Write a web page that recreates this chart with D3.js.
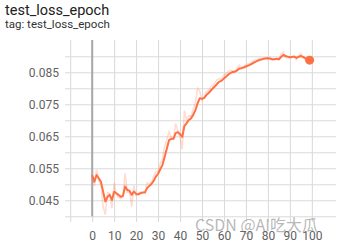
<!DOCTYPE html>
<html>
<head>
<meta charset="utf-8">
<script src="https://cdn.jsdelivr.net/npm/d3@7/dist/d3.min.js"></script>
<style>
  body { margin: 0; background: #fff; }
  svg { display: block; font-family: Roboto, "Noto Sans", sans-serif; }
</style>
</head>
<body>
<svg id="chart" width="338" height="245"></svg>
<script>
// values
var title = "test_loss_epoch";
var tagLine = "tag: test_loss_epoch";
var xTicks = [-10, 0, 10, 20, 30, 40, 50, 60, 70, 80, 90, 100];
var yGrid = [0.040, 0.045, 0.050, 0.055, 0.060, 0.065, 0.070, 0.075, 0.080, 0.085, 0.090];
var yLabels = [0.045, 0.055, 0.065, 0.075, 0.085];

var smoothed = [
  0.0529, 0.0508, 0.0529, 0.0519, 0.0508, 0.0477, 0.0446, 0.0461, 0.0467, 0.0451,
  0.0477, 0.0472, 0.0467, 0.0461, 0.0463, 0.0493, 0.0482, 0.0480, 0.0467, 0.0477,
  0.0470, 0.0469, 0.0472, 0.0474, 0.0474, 0.0488, 0.0495, 0.0501, 0.0511, 0.0524,
  0.0533, 0.0547, 0.0560, 0.0586, 0.0612, 0.0638, 0.0642, 0.0642, 0.0660, 0.0663,
  0.0657, 0.0648, 0.0682, 0.0691, 0.0701, 0.0706, 0.0717, 0.0732, 0.0753, 0.0769,
  0.0767, 0.0770, 0.0779, 0.0785, 0.0793, 0.0800, 0.0807, 0.0815, 0.0821, 0.0824,
  0.0831, 0.0837, 0.0843, 0.0848, 0.0851, 0.0852, 0.0856, 0.0862, 0.0863, 0.0865,
  0.0868, 0.0871, 0.0874, 0.0878, 0.0882, 0.0885, 0.0888, 0.0890, 0.0892, 0.0893,
  0.0894, 0.0893, 0.0891, 0.0891, 0.0892, 0.0891, 0.0898, 0.0904, 0.0901, 0.0899,
  0.0897, 0.0898, 0.0899, 0.0895, 0.0898, 0.0901, 0.0898, 0.0894, 0.0892, 0.0888
];
var raw = [
  0.0529, 0.0495, 0.0545, 0.0512, 0.0500, 0.0430, 0.0405, 0.0475, 0.0470, 0.0425,
  0.0505, 0.0468, 0.0460, 0.0455, 0.0465, 0.0534, 0.0475, 0.0476, 0.0430, 0.0496,
  0.0465, 0.0468, 0.0476, 0.0476, 0.0474, 0.0505, 0.0500, 0.0505, 0.0525, 0.0540,
  0.0540, 0.0565, 0.0580, 0.0620, 0.0640, 0.0665, 0.0645, 0.0640, 0.0690, 0.0668,
  0.0648, 0.0610, 0.0730, 0.0700, 0.0715, 0.0712, 0.0735, 0.0755, 0.0800, 0.0790,
  0.0762, 0.0775, 0.0790, 0.0792, 0.0805, 0.0810, 0.0818, 0.0828, 0.0830, 0.0828,
  0.0842, 0.0846, 0.0852, 0.0856, 0.0855, 0.0853, 0.0862, 0.0872, 0.0865, 0.0868,
  0.0873, 0.0876, 0.0879, 0.0884, 0.0888, 0.0890, 0.0893, 0.0893, 0.0895, 0.0895,
  0.0895, 0.0892, 0.0888, 0.0891, 0.0893, 0.0889, 0.0908, 0.0913, 0.0897, 0.0896,
  0.0894, 0.0899, 0.0901, 0.0889, 0.0903, 0.0908, 0.0895, 0.0889, 0.0888, 0.0882
];

var svg = d3.select("#chart");
var lineColor = "#ff7043";

var x = d3.scaleLinear().domain([-11, 111]).range([68, 336]);
var y = d3.scaleLinear().domain([0.040, 0.095]).range([216.3, 40.3]);

svg.append("text").attr("x", 5).attr("y", 15)
  .attr("font-size", 14.5).attr("fill", "#212121").text(title);
svg.append("text").attr("x", 5).attr("y", 28)
  .attr("font-size", 11.5).attr("fill", "#333").text(tagLine);

// horizontal grid + y ticks
var yAxis = d3.axisLeft(y).tickValues(yGrid).tickSize(-(336 - 65)).tickPadding(6)
  .tickFormat(function (d) {
    return yLabels.some(function (v) { return Math.abs(v - d) < 1e-9; }) ? d3.format(".3f")(d) : "";
  });
var gy = svg.append("g").attr("transform", "translate(65,0)").call(yAxis);
gy.select(".domain").remove();
gy.selectAll("line").attr("stroke", "#d9d9d9");
gy.selectAll("text").attr("font-size", 12).attr("fill", "#616161").attr("font-family", "Roboto");

// vertical grid + x ticks
var xAxis = d3.axisBottom(x).tickValues(xTicks).tickSize(-(222 - 40)).tickPadding(5)
  .tickFormat(function (d) { return d < 0 ? "" : d; });
var gx = svg.append("g").attr("transform", "translate(0,222)").call(xAxis);
gx.select(".domain").remove();
gx.selectAll("line").attr("stroke", "#d9d9d9");
gx.selectAll("text").attr("font-size", 12).attr("fill", "#616161").attr("font-family", "Roboto")
  .attr("dy", "1.05em");

// zero line
svg.append("line")
  .attr("x1", x(0)).attr("x2", x(0))
  .attr("y1", 40).attr("y2", 216.3)
  .attr("stroke", "#a8a8a8").attr("stroke-width", 2);

var line = d3.line()
  .x(function (d, i) { return x(i); })
  .y(function (d) { return y(d); });

svg.append("path").datum(raw)
  .attr("d", line)
  .attr("fill", "none")
  .attr("stroke", lineColor)
  .attr("stroke-opacity", 0.25)
  .attr("stroke-width", 1.5);

svg.append("path").datum(smoothed)
  .attr("d", line)
  .attr("fill", "none")
  .attr("stroke", lineColor)
  .attr("stroke-width", 2)
  .attr("stroke-linejoin", "round");

var last = smoothed.length - 1;
svg.append("circle")
  .attr("cx", x(last)).attr("cy", y(smoothed[last]))
  .attr("r", 4.5).attr("fill", lineColor);

// watermark (overlaps the x labels, as in the original screenshot)
svg.append("text").attr("x", 195).attr("y", 231)
  .attr("font-size", 16).attr("fill", "#888").attr("fill-opacity", 0.6)
  .attr("font-family", "'Noto Sans CJK SC', 'Noto Sans', sans-serif")
  .text("CSDN @AI吃大瓜");
</script>
</body>
</html>
